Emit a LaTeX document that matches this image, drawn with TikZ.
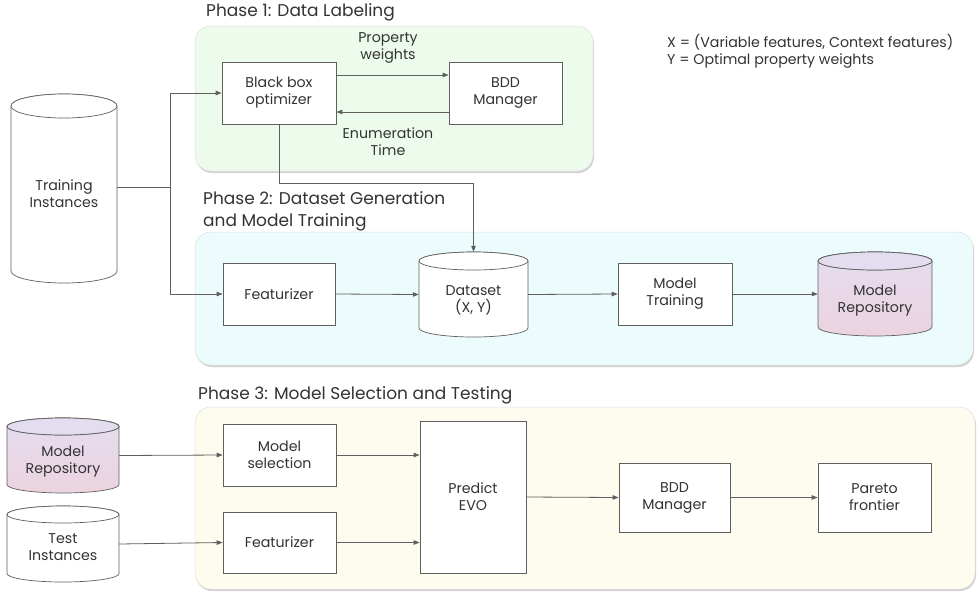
\documentclass[tikz,border=0pt]{standalone}
\usepackage{fontspec}
\setmainfont{Poppins}
\usetikzlibrary{arrows.meta,shadows}
\definecolor{lc}{HTML}{5F5F5F}
\definecolor{tc}{HTML}{333333}
\definecolor{pone}{HTML}{EDFBEC}
\definecolor{ptwo}{HTML}{ECFCFC}
\definecolor{pthree}{HTML}{FDFCEE}
\definecolor{mrtop}{HTML}{E4DDEF}
\definecolor{mrbot}{HTML}{ECD3DF}
\newcommand\drawcyl[6]{%
  \path[#6] (#1,#3+#5) -- (#1,#4-#5)
    arc[start angle=180,end angle=0,x radius={(#2-#1)/2},y radius=#5]
    -- (#2,#3+#5)
    arc[start angle=0,end angle=-180,x radius={(#2-#1)/2},y radius=#5] -- cycle;
  \path[#6] ({(#1+#2)/2},#3+#5) ellipse[x radius={(#2-#1)/2},y radius=#5];
}
\begin{document}
\begin{tikzpicture}[x=1pt,y=-1pt,
  font=\fontsize{14.2}{17}\selectfont,
  box/.style={draw=lc, fill=white, line width=0.7pt, align=center, inner sep=0pt, text=tc},
  arr/.style={draw=lc, line width=0.8pt, -{Triangle[length=6pt,width=4.5pt]}},
  ln/.style={draw=lc, line width=0.8pt},
  phase/.style={rounded corners=16pt, draw=black!12, line width=0.5pt, inner sep=0pt,
    drop shadow={shadow xshift=1pt,shadow yshift=-2pt,opacity=0.35,fill=black!50}},
  ttl/.style={font=\fontsize{17}{22}\selectfont, text=tc, inner sep=0pt, anchor=west, align=left},
  lbl/.style={text=tc, align=center, inner sep=0pt},
  cylbox/.style={inner sep=0pt, draw=none},
  cylw/.style={draw=lc, line width=0.7pt, fill=white},
  cylp/.style={draw=lc, line width=0.7pt, top color=mrtop, bottom color=mrbot},
  cylpt/.style={draw=lc, line width=0.7pt, fill=mrtop}]
\useasboundingbox (0,0) rectangle (977,595);
\fill[white] (0,0) rectangle (977,595);

% phase panels
\node[phase, fill=pone, minimum width=398pt, minimum height=145pt] (p1) at (394,98.5) {};
\node[phase, fill=ptwo, minimum width=778pt, minimum height=133pt] (p2) at (584,298.5) {};
\node[phase, fill=pthree, minimum width=780pt, minimum height=182pt] (p3) at (585,498) {};

% titles
\node[ttl] (t1) at (206,12) {Phase 1: Data Labeling};
\node[ttl] (t2) at (203,211) {Phase 2: Dataset Generation\\and Model Training};
\node[ttl] (t3) at (198,395) {Phase 3: Model Selection and Testing};
\node[lbl, anchor=west, align=left] (leg) at (667,51.5) {X = (Variable features, Context features)\\Y = Optimal property weights};

% cylinders
\drawcyl{11}{117}{94}{283}{12}{cylw}
\node[cylbox, minimum width=106pt, minimum height=189pt] (tr) at (64,188.5) {};
\node[lbl] (trt) at (64,194) {Training\\Instances};

\drawcyl{419}{528}{252}{337}{9}{cylw}
\node[cylbox, minimum width=109pt, minimum height=85pt] (ds) at (473.5,294.5) {};
\node[lbl] (dst) at (473.5,300.5) {Dataset\\(X, Y)};

\drawcyl{818}{932}{252}{336}{9}{cylp}
\path[cylpt] (875,261) ellipse[x radius=57,y radius=9];
\node[cylbox, minimum width=114pt, minimum height=84pt] (mr) at (875,294) {};
\node[lbl] (mrt) at (875,300.5) {Model\\Repository};

\drawcyl{7}{119}{418}{493}{8.5}{cylp}
\path[cylpt] (63,426.5) ellipse[x radius=56,y radius=8.5];
\node[cylbox, minimum width=112pt, minimum height=75pt] (mr3) at (63,455.5) {};
\node[lbl] (mr3t) at (63,461.5) {Model\\Repository};

\drawcyl{7}{119}{506}{582}{8.5}{cylw}
\node[cylbox, minimum width=112pt, minimum height=76pt] (ti) at (63,544) {};
\node[lbl] (tit) at (63,547.5) {Test\\Instances};

% boxes
\node[box, minimum width=114pt, minimum height=62pt] (bb) at (279,93) {Black box\\optimizer};
\node[box, minimum width=113pt, minimum height=62pt] (bdd) at (505.5,93) {BDD\\Manager};
\node[box, minimum width=112pt, minimum height=62pt] (f2) at (279,294) {Featurizer};
\node[box, minimum width=114pt, minimum height=62pt] (mt) at (675,294) {Model\\Training};
\node[box, minimum width=113pt, minimum height=62pt] (ms) at (279.5,455) {Model\\selection};
\node[box, minimum width=113pt, minimum height=61pt] (f3) at (279.5,542.5) {Featurizer};
\node[box, minimum width=106pt, minimum height=152pt] (pe) at (473,497) {Predict\\EVO};
\node[box, minimum width=111pt, minimum height=69pt] (bdd3) at (674.5,497.5) {BDD\\Manager};
\node[box, minimum width=113pt, minimum height=69pt] (pf) at (874.5,497.5) {Pareto\\frontier};

% labels
\node[lbl] (pw) at (388,48) {Property\\weights};
\node[lbl] (et) at (388,142) {Enumeration\\Time};

% connectors
\coordinate (j1) at (170,187);
\coordinate (c1) at (473.5,183);
\draw[ln] (tr.east |- j1) -- (j1);
\draw[arr] (j1) |- (bb.west);
\draw[arr] (j1) |- (f2.west);
\draw[arr] ([yshift=18pt]bb.east) -- ([yshift=18pt]bdd.west);
\draw[arr] ([yshift=-19pt]bdd.west) -- ([yshift=-19pt]bb.east);
\draw[arr] (bb.south) |- (c1) -- (ds.north);
\draw[arr] (f2.east) -- (ds.west);
\draw[arr] (ds.east) -- (mt.west);
\draw[arr] (mt.east) -- (mr.west);
\draw[arr] (mr3.east) -- (ms.west);
\draw[arr] (ti.east) -- (f3.west);
\draw[arr] (ms.east) -- (pe.west |- ms.east);
\draw[arr] (f3.east) -- (pe.west |- f3.east);
\draw[arr] (pe.east) -- (bdd3.west);
\draw[arr] (bdd3.east) -- (pf.west);
\end{tikzpicture}
\end{document}
